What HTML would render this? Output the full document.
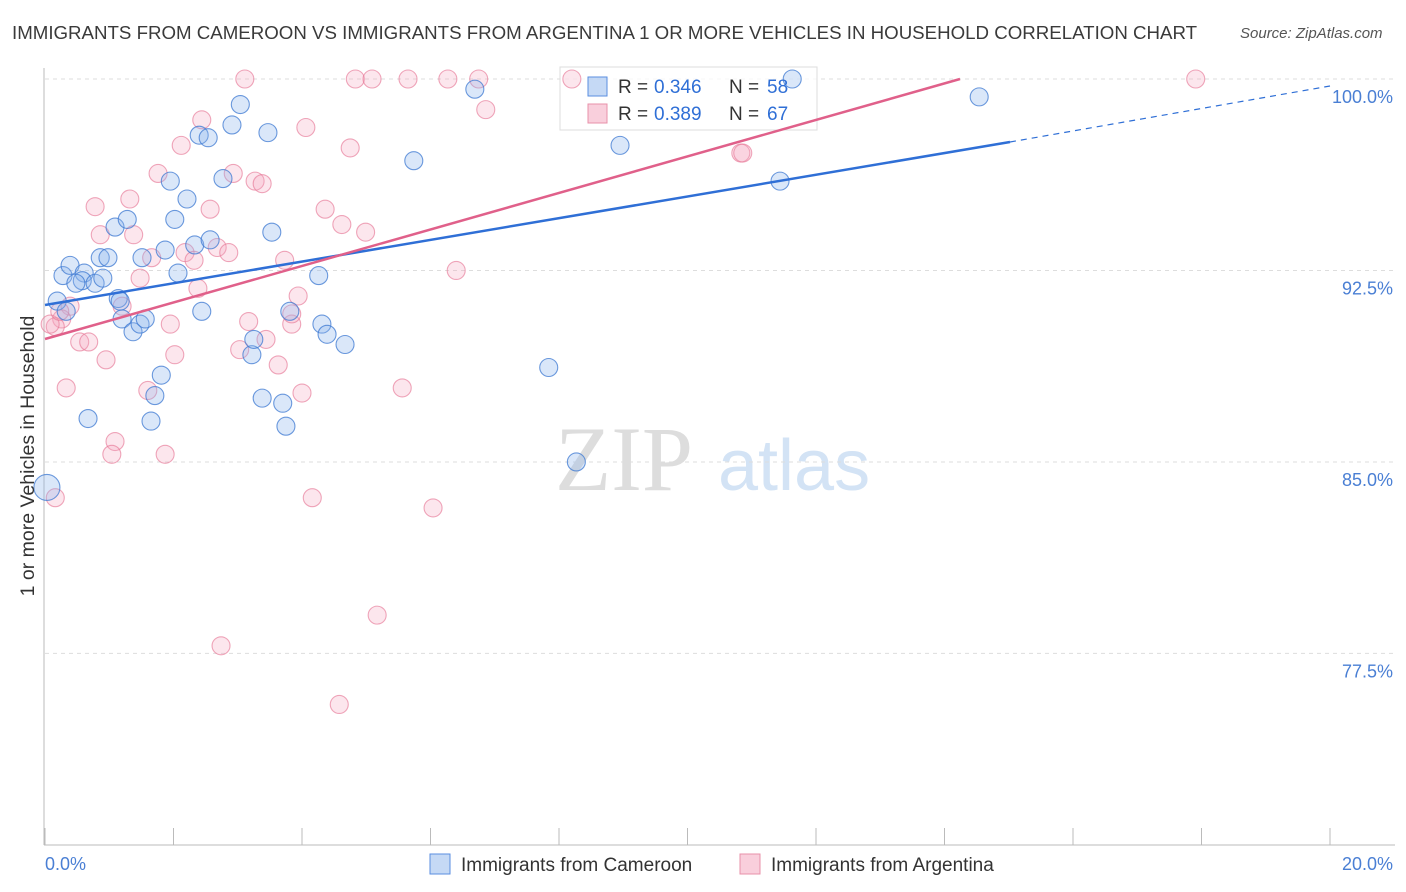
<!DOCTYPE html>
<html><head><meta charset="utf-8"><style>
body{margin:0;background:#fff;font-family:"Liberation Sans",sans-serif;}
#wrap{position:relative;width:1406px;height:892px;overflow:hidden;}
.t{position:absolute;white-space:nowrap;}
</style></head><body>
<div id="wrap">
<div class="t" style="left:12px;top:22px;font-size:18.7px;color:#3a3a3a;">IMMIGRANTS FROM CAMEROON VS IMMIGRANTS FROM ARGENTINA 1 OR MORE VEHICLES IN HOUSEHOLD CORRELATION CHART</div>
<div class="t" style="left:1240px;top:25px;font-size:15px;color:#555;font-style:italic;">Source: ZipAtlas.com</div>
<svg id="svg" width="1406" height="892" style="position:absolute;left:0;top:0"></svg>
</div>
<script>
const yTicks=[100,92.5,85,77.5];
const yTickLabels=["100.0%","92.5%","85.0%","77.5%"];
const xLabels=["0.0%","20.0%"];
const blueX=[0.19,0.28,0.39,0.61,0.58,0.48,0.78,0.86,0.98,0.90,1.09,1.28,1.14,1.20,1.37,1.48,1.56,1.51,1.81,1.71,1.65,0.67,1.87,1.95,2.02,2.07,2.21,2.33,2.44,2.57,2.40,2.54,2.77,2.91,3.04,3.47,3.53,3.22,3.25,3.38,3.70,3.75,3.81,4.26,4.31,4.39,4.67,5.74,6.69,7.84,8.27,8.95,11.44,11.63,14.54,0.03,0.33,1.17];
const blueY=[91.3,92.3,92.7,92.4,92.1,92.0,92.0,93.0,93.0,92.2,94.2,94.5,91.4,90.6,90.1,90.4,90.6,93.0,88.4,87.6,86.6,86.7,93.3,96.0,94.5,92.4,95.3,93.5,90.9,93.7,97.8,97.7,96.1,98.2,99.0,97.9,94.0,89.2,89.8,87.5,87.3,86.4,90.9,92.3,90.4,90.0,89.6,96.8,99.6,88.7,85.0,97.4,96.0,100.0,99.3,84.0,90.9,91.3];
const pinkX=[3.11,4.83,5.09,5.65,6.27,6.75,8.20,17.91,6.86,2.44,2.12,4.06,4.75,1.76,1.32,0.78,0.86,2.57,2.93,3.27,3.38,4.36,4.62,4.99,1.38,1.66,2.18,2.32,2.68,2.86,1.48,2.38,3.73,3.94,6.40,10.83,10.86,0.39,0.26,0.16,0.54,0.68,0.95,1.95,2.02,3.17,3.03,3.44,3.84,3.63,4.00,5.56,0.33,1.60,1.09,1.04,1.87,4.16,6.04,5.17,2.74,4.58,0.16,0.08,1.20,0.23,3.84];
const pinkY=[100.0,100.0,100.0,100.0,100.0,100.0,100.0,100.0,98.8,98.4,97.4,98.1,97.3,96.3,95.3,95.0,93.9,94.9,96.3,96.0,95.9,94.9,94.3,94.0,93.9,93.0,93.2,92.9,93.4,93.2,92.2,91.8,92.9,91.5,92.5,97.1,97.1,91.1,90.6,90.3,89.7,89.7,89.0,90.4,89.2,90.5,89.4,89.8,90.4,88.8,87.7,87.9,87.9,87.8,85.8,85.3,85.3,83.6,83.2,79.0,77.8,75.5,83.6,90.4,91.1,90.9,90.8];
const X0=45,X1=1330,Y0=79,PY=25.53;
const sx=v=>X0+(v/20)*(X1-X0);
const sy=v=>Y0+(100-v)*PY;
const NS="http://www.w3.org/2000/svg";
const svg=document.getElementById('svg');
function mk(t,a){const e=document.createElementNS(NS,t);for(const k in a)e.setAttribute(k,a[k]);svg.appendChild(e);return e;}
let w=mk('text',{x:555,y:490,'font-size':92,'font-family':'Liberation Serif,serif',fill:'#ddd'});w.textContent='ZIP';


let w2=mk('text',{x:718,y:490,'font-size':72,'font-family':'Liberation Sans,sans-serif',fill:'#d3e3f5'});w2.textContent='atlas';


yTicks.forEach((v,i)=>{
 let g=mk('line',{x1:X0,x2:1395,y1:sy(v),y2:sy(v),stroke:'#ddd','stroke-dasharray':'4,4'});
 
 
 let t=mk('text',{x:1393,y:sy(v)+24,'text-anchor':'end','font-size':18,fill:'#4a7fd4'});t.textContent=yTickLabels[i];
 
 
});
let ax=mk('line',{x1:44,x2:44,y1:68,y2:845,stroke:'#bbb'});


let bx=mk('line',{x1:44,x2:1395,y1:845,y2:845,stroke:'#bbb'});


for(let i=0;i<=10;i++){let l=mk('line',{x1:sx(i*2),x2:sx(i*2),y1:828,y2:845,stroke:'#bbb'});
 
 }
let lb=mk('rect',{x:560,y:67,width:257,height:63,fill:'rgba(255,255,255,0.75)',stroke:'#ddd'});


function pts(xs,ys,fill,stroke,name){xs.forEach((x,i)=>{
 const big=(x<0.1&&ys[i]<85);
 let c=mk('circle',{cx:sx(x),cy:sy(ys[i]),r:big?13:9,fill:fill,stroke:stroke,'stroke-width':1.1});
 
 });}
pts(pinkX,pinkY,'rgba(244,165,190,0.28)','rgba(230,120,150,0.65)','argentina-point');
pts(blueX,blueY,'rgba(140,180,235,0.32)','rgba(60,120,210,0.75)','cameroon-point');
let bl=mk('line',{x1:45,y1:305,x2:1010,y2:142,stroke:'#2f6fd6','stroke-width':2.5});


let bd=mk('line',{x1:1010,y1:142,x2:1330,y2:86,stroke:'#2f6fd6','stroke-width':1.2,'stroke-dasharray':'6,5'});


let pl=mk('line',{x1:45,y1:339,x2:960,y2:79,stroke:'#e0608a','stroke-width':2.5});


xLabels.forEach((s,i)=>{let t=mk('text',{x:i?1393:45,y:870,'text-anchor':i?'end':'start','font-size':18,fill:'#4a7fd4'});t.textContent=s;
 
 });
let yt=mk('text',{x:34,y:456,'font-size':19.5,fill:'#333','text-anchor':'middle',transform:'rotate(-90 34 456)'});yt.textContent='1 or more Vehicles in Household';


[[86,'rgba(140,180,235,0.5)','#5a8ee0','0.346','58'],[113,'rgba(244,160,185,0.5)','#e890aa','0.389','67']].forEach(r=>{
 let s=mk('rect',{x:588,y:r[0]-9,width:19,height:19,fill:r[1],stroke:r[2]});
 
 
 let a=mk('text',{x:618,y:r[0]+7,'font-size':19,fill:'#333'});a.textContent='R =';
 
 
 let b=mk('text',{x:654,y:r[0]+7,'font-size':19,fill:'#2f6fd6'});b.textContent=r[3];
 
 
 let c=mk('text',{x:729,y:r[0]+7,'font-size':19,fill:'#333'});c.textContent='N =';
 
 
 let d=mk('text',{x:767,y:r[0]+7,'font-size':19,fill:'#2f6fd6'});d.textContent=r[4];
 
 
});
[[430,'rgba(140,180,235,0.5)','#5a8ee0','Immigrants from Cameroon'],[740,'rgba(244,160,185,0.5)','#e890aa','Immigrants from Argentina']].forEach(r=>{
 let s=mk('rect',{x:r[0],y:854,width:20,height:20,fill:r[1],stroke:r[2]});
 
 
 let t=mk('text',{x:r[0]+31,y:871,'font-size':19,fill:'#333'});t.textContent=r[3];
 
 
});
</script>
</body></html>
